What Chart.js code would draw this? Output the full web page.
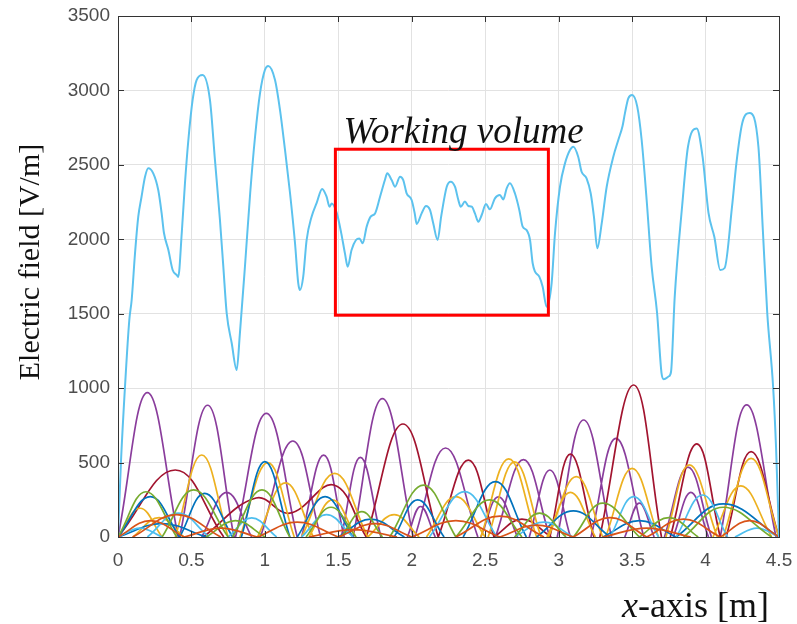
<!DOCTYPE html>
<html>
<head>
<meta charset="utf-8">
<title>Electric field along the x-axis</title>
<script src="https://cdn.jsdelivr.net/npm/chart.js@4.4.0/dist/chart.umd.min.js"></script>
<style>
  html, body { margin: 0; padding: 0; background: #fff; }
  #wrap { width: 797px; height: 624px; position: relative; }
</style>
</head>
<body>
<div id="wrap"><canvas id="field"></canvas></div>
<script>
// total field magnitude along the axis
const fieldX = [
  0.000, 0.020, 0.050, 0.077, 0.093, 0.116, 0.138, 0.160, 0.184, 0.206, 0.240, 0.274, 0.297, 0.313,
  0.343, 0.372, 0.400, 0.410, 0.434, 0.456, 0.479, 0.508, 0.535, 0.576, 0.626, 0.660, 0.694, 0.717,
  0.740, 0.774, 0.808, 0.830, 0.864, 0.900, 0.933, 0.967, 1.000, 1.023, 1.069, 1.103, 1.137, 1.171,
  1.205, 1.227, 1.239, 1.261, 1.284, 1.318, 1.352, 1.390, 1.420, 1.440, 1.455, 1.490, 1.520, 1.545,
  1.564, 1.590, 1.620, 1.643, 1.666, 1.693, 1.720, 1.750, 1.784, 1.817, 1.833, 1.863, 1.886, 1.920,
  1.942, 1.965, 1.999, 2.020, 2.033, 2.067, 2.097, 2.124, 2.146, 2.176, 2.200, 2.238, 2.265, 2.294,
  2.317, 2.333, 2.362, 2.385, 2.408, 2.430, 2.453, 2.476, 2.505, 2.532, 2.566, 2.600, 2.623, 2.646,
  2.668, 2.702, 2.732, 2.755, 2.782, 2.805, 2.823, 2.839, 2.868, 2.891, 2.918, 2.952, 2.975, 3.009,
  3.043, 3.077, 3.100, 3.133, 3.156, 3.190, 3.218, 3.240, 3.263, 3.293, 3.327, 3.372, 3.406, 3.435,
  3.451, 3.474, 3.500, 3.535, 3.565, 3.599, 3.633, 3.670, 3.700, 3.715, 3.750, 3.765, 3.790, 3.840,
  3.880, 3.940, 3.980, 4.020, 4.060, 4.100, 4.130, 4.180, 4.210, 4.250, 4.300, 4.360, 4.390, 4.420,
  4.460, 4.480, 4.500
];
const fieldY = [
  0, 500, 1050, 1458, 1592, 1908, 2152, 2284, 2420, 2477, 2443, 2331, 2176, 2042,
  1928, 1794, 1760, 1747, 2042, 2378, 2667, 2936, 3070, 3104, 2936, 2533, 2130, 1816,
  1503, 1303, 1122, 1370, 1814, 2311, 2689, 2982, 3137, 3164, 3070, 2868, 2600, 2311,
  1975, 1706, 1659, 1749, 1995, 2152, 2243, 2338, 2286, 2219, 2241, 2174, 2040, 1905,
  1816, 1928, 1995, 2006, 1973, 2085, 2152, 2174, 2286, 2398, 2443, 2398, 2353, 2420,
  2398, 2309, 2264, 2174, 2103, 2174, 2224, 2197, 2107, 1995, 2152, 2353, 2387, 2353,
  2264, 2219, 2253, 2224, 2219, 2174, 2118, 2163, 2237, 2201, 2275, 2297, 2268, 2342,
  2376, 2309, 2197, 2085, 2062, 1995, 1839, 1782, 1749, 1681, 1547, 1704, 2040, 2353,
  2510, 2600, 2622, 2555, 2454, 2410, 2309, 2152, 1939, 2107, 2353, 2555, 2667, 2761,
  2846, 2947, 2969, 2891, 2667, 2264, 1816, 1505, 1102, 1060, 1080, 1110, 1612, 2217,
  2620, 2745, 2553, 2177, 2015, 1794, 1807, 2217, 2512, 2781, 2848, 2620, 2062, 1505,
  1008, 600, 0
];

// single-mode contributions, one arch per entry: [start, end, x1, y1, x2, y2, ...]
const orangeArches = [
  [0, 0.45, 0.22, 110], [0.10, 0.70, 0.40, 150], [0.45, 0.95, 0.70, 60], [0.95, 1.50, 1.22, 100],
  [1.30, 1.90, 1.60, 50], [1.50, 2.00, 1.75, 90], [2.00, 2.60, 2.30, 110], [2.30, 2.90, 2.60, 140],
  [2.60, 3.10, 2.85, 80], [3.10, 3.60, 3.35, 130], [3.30, 3.90, 3.60, 60], [3.60, 4.10, 3.85, 120],
  [4.10, 4.50, 4.30, 110]
];
const greenArches = [
  [0, 0.40, 0.19, 304], [0.30, 0.75, 0.515, 316], [0.60, 1.00, 0.80, 110], [0.78, 1.17, 0.98, 316],
  [1.28, 1.62, 1.45, 200], [1.52, 1.80, 1.66, 170], [1.85, 2.30, 2.08, 349], [2.30, 2.75, 2.53, 249],
  [2.70, 3.05, 2.87, 161], [3.10, 3.55, 3.30, 228], [3.55, 3.95, 3.75, 130], [3.85, 4.45, 4.12, 200]
];
const lightBlueArches = [
  [0, 0.30, 0.15, 60], [0.20, 0.62, 0.41, 161], [0.75, 1.08, 0.91, 128], [1.25, 1.60, 1.42, 150],
  [2.12, 2.58, 2.36, 305], [2.70, 3.10, 2.90, 100], [3.35, 3.68, 3.51, 271], [3.80, 4.15, 3.98, 282],
  [4.20, 4.50, 4.35, 60]
];
const blueArches = [
  [0, 0.60, 0.30, 90], [0, 0.42, 0.22, 271], [0.42, 0.78, 0.59, 293], [0.84, 1.17, 1.00, 506],
  [1.22, 1.60, 1.41, 271], [1.50, 1.95, 1.72, 120], [1.88, 2.22, 2.04, 249], [2.35, 2.78, 2.57, 372],
  [2.85, 3.35, 3.10, 175], [3.30, 3.80, 3.55, 110], [3.80, 4.50, 4.12, 222]
];
const yellowArches = [
  [0, 0.30, 0.15, 193], [0.10, 0.45, 0.28, 130], [0.39, 0.75, 0.57, 551], [0.83, 1.20, 1.02, 500],
  [0.95, 1.33, 1.14, 363], [1.25, 1.70, 1.475, 428], [1.30, 1.62, 1.46, 250], [1.70, 2.05, 1.88, 150],
  [2.10, 2.50, 2.30, 271], [2.47, 2.85, 2.66, 525], [2.52, 2.88, 2.70, 505], [2.92, 3.25, 3.08, 300],
  [2.93, 3.30, 3.12, 405], [3.32, 3.68, 3.50, 461], [3.73, 4.08, 3.89, 484], [4.05, 4.45, 4.24, 343],
  [4.12, 4.50, 4.31, 528]
];
const redArches = [
  [0, 0.72, 0.39, 450], [0.58, 1.69, 0.94, 262, 1.17, 160, 1.47, 349], [1.69, 2.18, 1.94, 759],
  [2.18, 2.56, 2.385, 517], [2.56, 2.95, 2.75, 120], [2.94, 3.24, 3.08, 557], [3.28, 3.70, 3.51, 1021],
  [3.76, 4.10, 3.94, 625], [4.14, 4.50, 4.31, 573]
];
const purpleArches = [
  [0, 0.41, 0.20, 970], [0.42, 0.79, 0.61, 885], [0.57, 0.91, 0.74, 300], [0.80, 1.22, 1.01, 830],
  [0.97, 1.38, 1.19, 645], [1.25, 1.54, 1.40, 550], [1.52, 1.79, 1.65, 535], [1.60, 2.01, 1.80, 930],
  [1.97, 2.16, 2.06, 205], [2.02, 2.45, 2.23, 598], [2.47, 2.72, 2.59, 270], [2.57, 2.94, 2.76, 520],
  [2.80, 3.08, 2.94, 450], [2.99, 3.36, 3.17, 786], [3.22, 3.58, 3.39, 663], [3.45, 3.65, 3.55, 228],
  [3.72, 4.04, 3.88, 470], [3.78, 4.02, 3.90, 300], [4.10, 4.48, 4.28, 887]
];

const xTickLabels = ['0', '0.5', '1', '1.5', '2', '2.5', '3', '3.5', '4', '4.5'];
const yTickLabels = ['0', '500', '1000', '1500', '2000', '2500', '3000', '3500'];

// working volume outline and its caption
const boxX = [1.48, 2.93];
const boxY = [1490, 2605];
const captionAt = [1.535, 2650];

function archPoints(arches) {
    const pts = [];
    arches.forEach(function (a) {
        // null on both sides keeps every arch its own segment, so the zeros stay sharp
        pts.push({ x: a[0], y: null });
        pts.push({ x: a[0], y: 0 });
        for (let i = 2; i < a.length; i += 2) pts.push({ x: a[i], y: a[i + 1] });
        pts.push({ x: a[1], y: 0 });
        pts.push({ x: a[1], y: null });
    });
    return pts;
}

const modeSets = [
    { arches: orangeArches, color: '#D95319' },
    { arches: greenArches, color: '#77AC30' },
    { arches: lightBlueArches, color: '#4DBEEE' },
    { arches: blueArches, color: '#0072BD' },
    { arches: yellowArches, color: '#EDB120' },
    { arches: redArches, color: '#A2142F' },
    { arches: purpleArches, color: '#8A3D9C' }
];

const datasets = [{
    data: fieldX.map(function (x, i) { return { x: x, y: fieldY[i] }; }),
    borderColor: '#5CC2EE',
    borderWidth: 2,
    pointRadius: 0,
    cubicInterpolationMode: 'monotone'
}];
modeSets.forEach(function (m) {
    datasets.push({
        data: archPoints(m.arches),
        borderColor: m.color,
        borderWidth: 1.7,
        pointRadius: 0,
        tension: 0.4,
        spanGaps: false
    });
});

const framePlugin = {
    id: 'frame',
    afterDraw: function (chart) {
        const ctx = chart.ctx;
        const a = chart.chartArea;
        const xs = chart.scales.x;
        const ys = chart.scales.y;
        ctx.save();

        // axes box with inward ticks
        ctx.strokeStyle = '#333';
        ctx.lineWidth = 1;
        ctx.beginPath();
        xs.ticks.forEach(function (t) {
            const px = Math.round(xs.getPixelForValue(t.value)) + 0.5;
            ctx.moveTo(px, a.bottom); ctx.lineTo(px, a.bottom - 6);
            ctx.moveTo(px, a.top); ctx.lineTo(px, a.top + 6);
        });
        ys.ticks.forEach(function (t) {
            const py = Math.round(ys.getPixelForValue(t.value)) + 0.5;
            ctx.moveTo(a.left, py); ctx.lineTo(a.left + 6, py);
            ctx.moveTo(a.right, py); ctx.lineTo(a.right - 6, py);
        });
        ctx.stroke();
        ctx.strokeRect(Math.round(a.left) + 0.5, Math.round(a.top) + 0.5,
            Math.round(a.right - a.left), Math.round(a.bottom - a.top));

        // working volume
        const x0 = xs.getPixelForValue(boxX[0]);
        const x1 = xs.getPixelForValue(boxX[1]);
        const y0 = ys.getPixelForValue(boxY[1]);
        const y1 = ys.getPixelForValue(boxY[0]);
        ctx.strokeStyle = '#FF0000';
        ctx.lineWidth = 3;
        ctx.strokeRect(x0, y0, x1 - x0, y1 - y0);

        ctx.fillStyle = '#111';
        ctx.textBaseline = 'alphabetic';
        ctx.textAlign = 'left';
        ctx.font = 'italic 37px "Liberation Serif", "Times New Roman", serif';
        ctx.fillText('Working volume', xs.getPixelForValue(captionAt[0]), ys.getPixelForValue(captionAt[1]));

        // axis titles
        ctx.font = 'italic 36px "Liberation Serif", "Times New Roman", serif';
        ctx.fillText('x', 622, 617);
        const wx = ctx.measureText('x').width;
        ctx.font = '36px "Liberation Serif", "Times New Roman", serif';
        ctx.fillText('-axis [m]', 622 + wx, 617);

        ctx.translate(31, 262);
        ctx.rotate(-Math.PI / 2);
        ctx.textAlign = 'center';
        ctx.textBaseline = 'middle';
        ctx.font = '30px "Liberation Serif", "Times New Roman", serif';
        ctx.fillText('Electric field [V/m]', 0, 0);
        ctx.restore();
    }
};

new Chart(document.getElementById('field'), {
    type: 'line',
    data: { datasets: datasets },
    options: {
        responsive: true,
        maintainAspectRatio: false,
        animation: false,
        layout: { padding: { top: 16, right: 18, left: 0, bottom: 0 } },
        plugins: { legend: { display: false }, tooltip: { enabled: false } },
        scales: {
            x: {
                type: 'linear',
                min: 0,
                max: 4.5,
                border: { display: false },
                grid: { color: '#E2E2E2', lineWidth: 1, drawTicks: false },
                ticks: {
                    stepSize: 0.5,
                    autoSkip: false,
                    maxRotation: 0,
                    padding: 12,
                    color: '#4D4D4D',
                    font: { family: '"Liberation Sans", Arial, sans-serif', size: 19 },
                    callback: function (v, i) { return xTickLabels[i]; }
                },
                afterFit: function (scale) {
                    scale.height = 87;
                    scale.paddingLeft = 0;
                    scale.paddingRight = 0;
                }
            },
            y: {
                min: 0,
                max: 3500,
                border: { display: false },
                grid: { color: '#E2E2E2', lineWidth: 1, drawTicks: false },
                ticks: {
                    stepSize: 500,
                    padding: 8,
                    color: '#4D4D4D',
                    font: { family: '"Liberation Sans", Arial, sans-serif', size: 19 },
                    callback: function (v, i) { return yTickLabels[i]; }
                },
                afterFit: function (scale) {
                    scale.width = 118;
                    scale.paddingTop = 0;
                    scale.paddingBottom = 0;
                }
            }
        }
    },
    plugins: [framePlugin]
});
</script>
</body>
</html>
